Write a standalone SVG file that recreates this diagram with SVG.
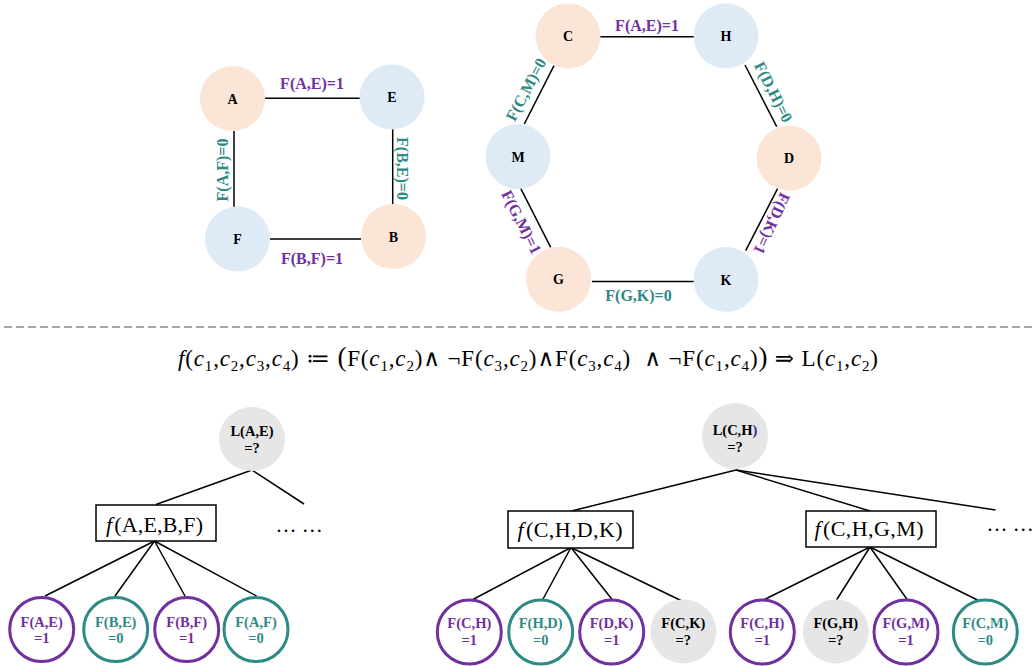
<svg xmlns="http://www.w3.org/2000/svg" width="1035" height="666" viewBox="0 0 1035 666">
<style>
text{font-family:"Liberation Serif","DejaVu Serif",serif;}
.nl{font-size:14px;font-weight:bold;fill:#000;text-anchor:middle;}
.el{font-size:16px;font-weight:bold;text-anchor:middle;dominant-baseline:central;}
.pu{fill:#7030A0;}
.te{fill:#2E8A85;}
.peach{fill:#FBE5D6;}
.blue{fill:#DEEBF7;}
.gray{fill:#E6E6E6;}
.edge{stroke:#000;stroke-width:1.5;fill:none;}
.tn{font-size:14.5px;font-weight:bold;text-anchor:middle;}
.box{fill:#fff;stroke:#000;stroke-width:1.5;}
.bt{font-size:22px;fill:#000;}
.i{font-style:italic;}
.ring-p{fill:#fff;stroke:#7030A0;stroke-width:3;}
.ring-t{fill:#fff;stroke:#2E8A85;stroke-width:3;}
.fx{font-size:23px;fill:#000;}
.s{font-size:15px;}
.big{font-size:27px;}
.dots{font-size:21px;text-anchor:middle;fill:#000;}
</style>

<!-- separator -->
<line id="separator" x1="4" y1="327" x2="1033" y2="327" stroke="#A6A6A6" stroke-width="2" stroke-dasharray="8 4"/>

<g id="connectors">
  <!-- square graph -->
  <line class="edge" x1="265" y1="98.3" x2="360" y2="98.3"/>
  <line class="edge" x1="234" y1="131" x2="234" y2="207"/>
  <line class="edge" x1="392.7" y1="129" x2="392.7" y2="205"/>
  <line class="edge" x1="270" y1="239" x2="361" y2="239"/>
  <!-- hexagon graph -->
  <line class="edge" x1="600" y1="36.7" x2="694" y2="36.7"/>
  <line class="edge" x1="745" y1="65" x2="776.7" y2="126.7"/>
  <line class="edge" x1="554" y1="65.7" x2="524.3" y2="124"/>
  <line class="edge" x1="520.7" y1="188.3" x2="550.7" y2="247.3"/>
  <line class="edge" x1="777.7" y1="188.3" x2="745.7" y2="250.7"/>
  <line class="edge" x1="592" y1="281.6" x2="694" y2="281.6"/>
  <!-- left tree -->
  <line class="edge" x1="252" y1="470" x2="156" y2="504.5"/>
  <line class="edge" x1="252" y1="470" x2="304" y2="504"/>
  <line class="edge" x1="154.5" y1="541" x2="45" y2="596"/>
  <line class="edge" x1="154.5" y1="541" x2="115" y2="596"/>
  <line class="edge" x1="154.5" y1="541" x2="185" y2="596"/>
  <line class="edge" x1="154.5" y1="541" x2="256.5" y2="596"/>
  <!-- right tree -->
  <line class="edge" x1="736" y1="470" x2="571.5" y2="511"/>
  <line class="edge" x1="736" y1="470" x2="870" y2="511"/>
  <line class="edge" x1="736" y1="470" x2="995.5" y2="510"/>
  <line class="edge" x1="571" y1="547.5" x2="472" y2="600"/>
  <line class="edge" x1="571" y1="547.5" x2="542.5" y2="600"/>
  <line class="edge" x1="571" y1="547.5" x2="612.5" y2="600"/>
  <line class="edge" x1="571" y1="547.5" x2="683" y2="601.5"/>
  <line class="edge" x1="870" y1="547" x2="763.5" y2="600"/>
  <line class="edge" x1="870" y1="547" x2="836.5" y2="600"/>
  <line class="edge" x1="870" y1="547" x2="907.5" y2="600"/>
  <line class="edge" x1="870" y1="547" x2="977.5" y2="600"/>
</g>

<g id="edge-labels">
  <text class="el pu" x="312" y="83.5">F(A,E)=1</text>
  <text class="el pu" x="312" y="258.5">F(B,F)=1</text>
  <text class="el te" transform="translate(222,170) rotate(-90)">F(A,F)=0</text>
  <text class="el te" transform="translate(402.5,168.5) rotate(90)">F(B,E)=0</text>
  <text class="el pu" x="647" y="25">F(A,E)=1</text>
  <text class="el te" x="638.5" y="295">F(G,K)=0</text>
  <text class="el te" transform="translate(526,89.5) rotate(-62)">F(C,M)=0</text>
  <text class="el te" transform="translate(773.5,92) rotate(63)">F(D,H)=0</text>
  <text class="el pu" transform="translate(521.5,222) rotate(63)">F(G,M)=1</text>
  <text class="el pu" transform="translate(772,223.5) rotate(115)">F(D,K)=1</text>
</g>

<!-- square graph nodes -->
<g id="node-A"><circle class="peach" cx="232.5" cy="98.5" r="32.5"/><text class="nl" x="232.5" y="103.5">A</text></g>
<g id="node-E"><circle class="blue" cx="392" cy="97" r="32.5"/><text class="nl" x="392" y="102">E</text></g>
<g id="node-F"><circle class="blue" cx="237.5" cy="239" r="32.5"/><text class="nl" x="237.5" y="244">F</text></g>
<g id="node-B"><circle class="peach" cx="393.5" cy="236.5" r="32.5"/><text class="nl" x="393.5" y="241.5">B</text></g>

<!-- hexagon graph nodes -->
<g id="node-C"><circle class="peach" cx="568" cy="36" r="32.5"/><text class="nl" x="568" y="41">C</text></g>
<g id="node-H"><circle class="blue" cx="726" cy="36" r="32.5"/><text class="nl" x="726" y="41">H</text></g>
<g id="node-M"><circle class="blue" cx="518" cy="156.5" r="32.5"/><text class="nl" x="518" y="161.5">M</text></g>
<g id="node-D"><circle class="peach" cx="789" cy="158.3" r="32.5"/><text class="nl" x="789" y="163.3">D</text></g>
<g id="node-G"><circle class="peach" cx="558.5" cy="279.2" r="32.5"/><text class="nl" x="558.5" y="284.2">G</text></g>
<g id="node-K"><circle class="blue" cx="726" cy="279.5" r="32.5"/><text class="nl" x="726" y="284.5">K</text></g>

<!-- formula -->
<g id="formula">
<text x="178" y="366" class="fx" textLength="700" lengthAdjust="spacing"><tspan class="i">f</tspan>(<tspan class="i">c</tspan><tspan class="s" dy="5">1</tspan><tspan dy="-5">,</tspan><tspan class="i">c</tspan><tspan class="s" dy="5">2</tspan><tspan dy="-5">,</tspan><tspan class="i">c</tspan><tspan class="s" dy="5">3</tspan><tspan dy="-5">,</tspan><tspan class="i">c</tspan><tspan class="s" dy="5">4</tspan><tspan dy="-5">) ≔ </tspan><tspan class="big">(</tspan>F(<tspan class="i">c</tspan><tspan class="s" dy="5">1</tspan><tspan dy="-5">,</tspan><tspan class="i">c</tspan><tspan class="s" dy="5">2</tspan><tspan dy="-5">)∧ ¬F(</tspan><tspan class="i">c</tspan><tspan class="s" dy="5">3</tspan><tspan dy="-5">,</tspan><tspan class="i">c</tspan><tspan class="s" dy="5">2</tspan><tspan dy="-5">)∧F(</tspan><tspan class="i">c</tspan><tspan class="s" dy="5">3</tspan><tspan dy="-5">,</tspan><tspan class="i">c</tspan><tspan class="s" dy="5">4</tspan><tspan dy="-5">)&#160; ∧ ¬F(</tspan><tspan class="i">c</tspan><tspan class="s" dy="5">1</tspan><tspan dy="-5">,</tspan><tspan class="i">c</tspan><tspan class="s" dy="5">4</tspan><tspan dy="-5">)</tspan><tspan class="big">)</tspan> ⇒ L(<tspan class="i">c</tspan><tspan class="s" dy="5">1</tspan><tspan dy="-5">,</tspan><tspan class="i">c</tspan><tspan class="s" dy="5">2</tspan><tspan dy="-5">)</tspan></text>
</g>

<!-- left tree -->
<g id="root-LAE"><ellipse class="gray" cx="252" cy="439" rx="33" ry="32"/><text class="tn" x="252" y="436">L(A,E)</text><text class="tn" x="252" y="453">=?</text></g>
<g id="box-AEBF"><rect class="box" x="96" y="505" width="120" height="36"/><text class="bt" x="106" y="531.5" textLength="97" lengthAdjust="spacing"><tspan class="i">f</tspan><tspan dx="2">(A,E,B,F)</tspan></text></g>
<g id="dots-left"><text class="dots" x="299" y="532">… …</text></g>
<g id="leaf-FAE"><circle class="ring-p" cx="41.7" cy="629.5" r="32"/><text class="tn pu" x="41.7" y="626.5">F(A,E)</text><text class="tn pu" x="41.7" y="643">=1</text></g>
<g id="leaf-FBE"><circle class="ring-t" cx="115.7" cy="629.5" r="32"/><text class="tn te" x="115.7" y="626.5">F(B,E)</text><text class="tn te" x="115.7" y="643">=0</text></g>
<g id="leaf-FBF"><circle class="ring-p" cx="186.7" cy="629.5" r="32"/><text class="tn pu" x="186.7" y="626.5">F(B,F)</text><text class="tn pu" x="186.7" y="643">=1</text></g>
<g id="leaf-FAF"><circle class="ring-t" cx="256" cy="629.5" r="32"/><text class="tn te" x="256" y="626.5">F(A,F)</text><text class="tn te" x="256" y="643">=0</text></g>

<!-- right tree -->
<g id="root-LCH"><ellipse class="gray" cx="735" cy="436" rx="33" ry="33"/><text class="tn" x="735" y="435">L(C,H<tspan fill="#2E3192">)</tspan></text><text class="tn" x="735" y="452">=?</text></g>
<g id="box-CHDK"><rect class="box" x="508" y="511" width="125" height="37"/><text class="bt" x="517.5" y="536.5" textLength="105" lengthAdjust="spacing"><tspan class="i">f</tspan><tspan dx="2">(C,H,D,K)</tspan></text></g>
<g id="box-CHGM"><rect class="box" x="806" y="511" width="130" height="36"/><text class="bt" x="814.5" y="536" textLength="109" lengthAdjust="spacing"><tspan class="i">f</tspan><tspan dx="2">(C,H,G,M)</tspan></text></g>
<g id="dots-right"><text class="dots" x="1010" y="531">… …</text></g>

<g id="leaf1-FCH"><circle class="ring-p" cx="469.3" cy="632" r="32"/><text class="tn pu" x="469.3" y="628">F(C,H)</text><text class="tn pu" x="469.3" y="645">=1</text></g>
<g id="leaf1-FHD"><circle class="ring-t" cx="540.7" cy="632" r="32"/><text class="tn te" x="540.7" y="628">F(H,D)</text><text class="tn te" x="540.7" y="645">=0</text></g>
<g id="leaf1-FDK"><circle class="ring-p" cx="611.7" cy="632" r="32"/><text class="tn pu" x="611.7" y="628">F(D,K)</text><text class="tn pu" x="611.7" y="645">=1</text></g>
<g id="leaf1-FCK"><ellipse class="gray" cx="683.3" cy="631.5" rx="33" ry="32"/><text class="tn" x="683.3" y="628">F(C,K)</text><text class="tn" x="683.3" y="645">=?</text></g>

<g id="leaf2-FCH"><circle class="ring-p" cx="762.3" cy="632" r="32"/><text class="tn pu" x="762.3" y="628">F(C,H)</text><text class="tn pu" x="762.3" y="645">=1</text></g>
<g id="leaf2-FGH"><ellipse class="gray" cx="835.8" cy="631.5" rx="33" ry="32"/><text class="tn" x="835.8" y="628">F(G,H)</text><text class="tn" x="835.8" y="645">=?</text></g>
<g id="leaf2-FGM"><circle class="ring-p" cx="906" cy="632" r="32"/><text class="tn pu" x="906" y="628">F(G,M)</text><text class="tn pu" x="906" y="645">=1</text></g>
<g id="leaf2-FCM"><circle class="ring-t" cx="985.3" cy="632" r="32"/><text class="tn te" x="985.3" y="628">F(C,M)</text><text class="tn te" x="985.3" y="645">=0</text></g>
</svg>
